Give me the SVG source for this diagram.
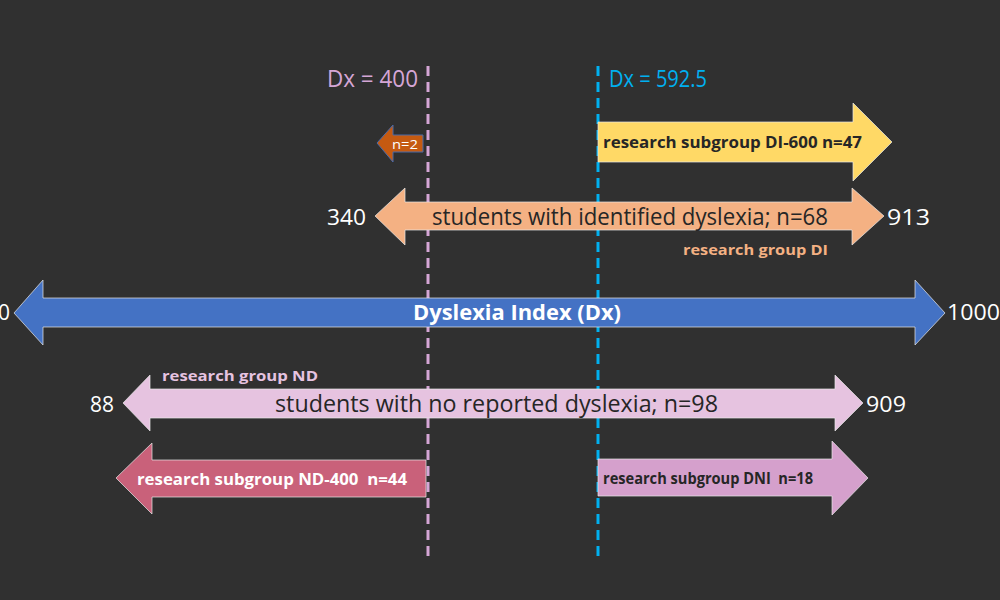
<svg xmlns="http://www.w3.org/2000/svg" width="1000" height="600" viewBox="0 0 1000 600">
<style>
.t{font-family:"Open Sans","Liberation Sans",sans-serif;white-space:pre}
.b{font-weight:bold}
.w{fill:#ffffff}
.d{fill:#262626}
.arr{stroke:#e8e8e8;stroke-width:1;stroke-opacity:0.7}
.vl{fill:none;stroke-width:3;stroke-dasharray:10 6}
</style>
<rect width="1000" height="600" fill="#303030"/>
<g id="guides">
<line class="vl" x1="428" y1="66" x2="428" y2="562" stroke="#d5a6d6"/>
<line class="vl" x1="598" y1="66" x2="598" y2="562" stroke="#00b0f0"/>
<text class="t" x="418" y="87" font-size="23" fill="#d5a6d6" text-anchor="end" textLength="91" lengthAdjust="spacingAndGlyphs">Dx = 400</text>
<text class="t" x="609" y="87" font-size="23" fill="#00b0f0" textLength="98" lengthAdjust="spacingAndGlyphs">Dx = 592.5</text>
</g>
<g id="n2">
<path d="M377,143 L393,125 L393,135 L423,135 L423,152 L393,152 L393,162 Z" fill="#c55a11" stroke="#4a6aa8" stroke-width="1"/>
<text class="t w" x="392" y="149" font-size="12" textLength="26" lengthAdjust="spacingAndGlyphs">n=2</text>
</g>
<g id="di600">
<path d="M598,122 L853,122 L853,103 L892,142 L853,181 L853,162 L598,162 Z" fill="#ffd966" class="arr"/>
<text class="t b d" x="603" y="148" font-size="16" textLength="259" lengthAdjust="spacingAndGlyphs">research subgroup DI-600 n=47</text>
</g>
<g id="di">
<path d="M375,216 L405,188 L405,202 L852,202 L852,188 L884,216 L852,245 L852,230 L405,230 L405,245 Z" fill="#f4b183" class="arr"/>
<text class="t d" x="432" y="225" font-size="24" textLength="396" lengthAdjust="spacingAndGlyphs">students with identified dyslexia; n=68</text>
<text class="t w" x="327" y="225" font-size="22" textLength="39" lengthAdjust="spacingAndGlyphs">340</text>
<text class="t w" x="887" y="225" font-size="22" textLength="43" lengthAdjust="spacingAndGlyphs">913</text>
<text class="t b" x="683" y="255" font-size="15" fill="#f4b183" textLength="145" lengthAdjust="spacingAndGlyphs">research group DI</text>
</g>
<g id="dx">
<path d="M14,313 L43,280 L43,298 L915,298 L915,280 L945,313 L915,345 L915,327 L43,327 L43,345 Z" fill="#4472c4" class="arr"/>
<text class="t b w" x="413" y="320" font-size="22" textLength="208" lengthAdjust="spacingAndGlyphs">Dyslexia Index (Dx)</text>
<text class="t w" x="-2" y="320" font-size="21">0</text>
<text class="t w" x="947" y="320" font-size="21" textLength="53" lengthAdjust="spacingAndGlyphs">1000</text>
</g>
<g id="nd">
<path d="M123,403 L150,375 L150,389 L835,389 L835,375 L863,403 L835,431 L835,418 L150,418 L150,431 Z" fill="#e6c3e0" class="arr"/>
<text class="t d" x="275" y="412" font-size="24" textLength="443" lengthAdjust="spacingAndGlyphs">students with no reported dyslexia; n=98</text>
<text class="t w" x="90" y="412" font-size="22" textLength="24" lengthAdjust="spacingAndGlyphs">88</text>
<text class="t w" x="866" y="412" font-size="22" textLength="40" lengthAdjust="spacingAndGlyphs">909</text>
<text class="t b" x="162" y="381" font-size="15" fill="#e6c3e0" textLength="156" lengthAdjust="spacingAndGlyphs">research group ND</text>
</g>
<g id="nd400">
<path d="M116,478 L152,443 L152,460 L426,460 L426,497 L152,497 L152,514 Z" fill="#c9617a" class="arr"/>
<text class="t b w" x="137" y="485" font-size="16" textLength="270" lengthAdjust="spacingAndGlyphs">research subgroup ND-400  n=44</text>
</g>
<g id="dni">
<path d="M598,459 L832,459 L832,441 L868,478 L832,515 L832,496 L598,496 Z" fill="#d5a0cc" class="arr"/>
<text class="t b d" x="603" y="484" font-size="16" textLength="210" lengthAdjust="spacingAndGlyphs">research subgroup DNI  n=18</text>
</g>
</svg>
